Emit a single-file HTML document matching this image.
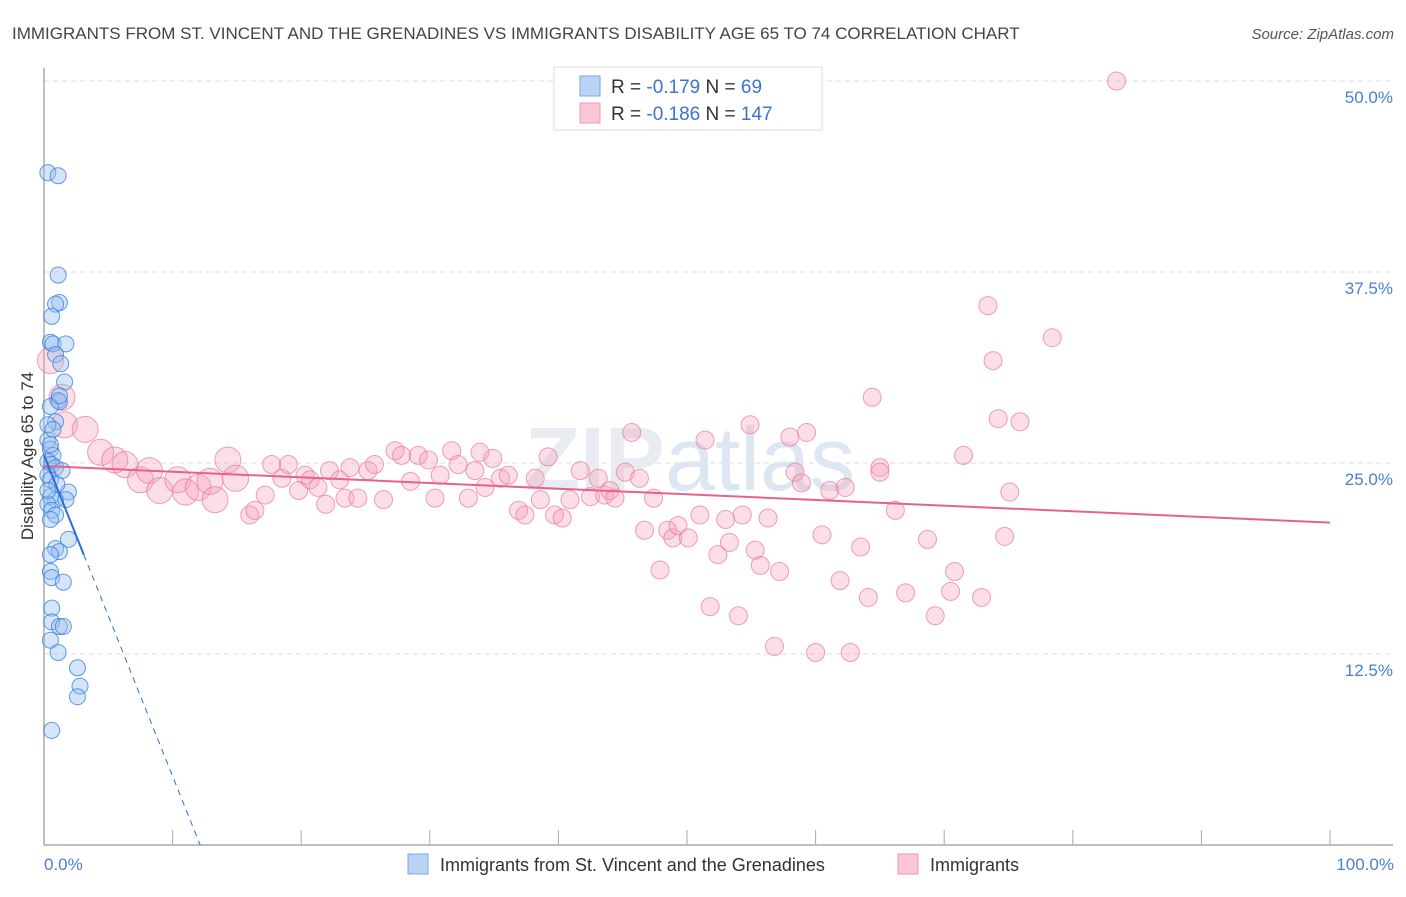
<!DOCTYPE html>
<html><head><meta charset="utf-8"><style>
body{margin:0;background:#fff;font-family:"Liberation Sans",sans-serif}
svg text{font-family:"Liberation Sans",sans-serif}
</style></head><body>
<svg width="1406" height="892" xmlns="http://www.w3.org/2000/svg">
<text x="12" y="39" font-size="17" fill="#444">IMMIGRANTS FROM ST. VINCENT AND THE GRENADINES VS IMMIGRANTS DISABILITY AGE 65 TO 74 CORRELATION CHART</text>
<text x="1394" y="39" font-size="15" fill="#555" text-anchor="end" font-style="italic">Source: ZipAtlas.com</text>
<g id="grid"></g>
<text x="690" y="490" font-size="90" fill="#e8ecf2" text-anchor="middle" font-weight="bold">ZIP<tspan fill="#dde6f3" font-weight="normal">atlas</tspan></text>
<line x1="44" y1="68" x2="44" y2="845" stroke="#aaa" stroke-width="1.5"/>
<line x1="44" y1="845" x2="1393" y2="845" stroke="#aaa" stroke-width="1.5"/>
<text transform="translate(33,456) rotate(-90)" font-size="17" fill="#333" text-anchor="middle">Disability Age 65 to 74</text>
<text x="44" y="870" font-size="17" fill="#4a7fd4">0.0%</text>
<text x="1394" y="870" font-size="17" fill="#4a7fd4" text-anchor="end">100.0%</text>
<g id="pink"></g><g id="blue"></g><g id="lines"></g>
<g>
<rect x="554" y="67" width="268" height="63" fill="#fff" stroke="#ddd"/>
<rect x="580" y="76" width="20" height="20" fill="#b9d3f5" stroke="#7aa6e6"/>
<rect x="580" y="103" width="20" height="20" fill="#fbc6d5" stroke="#ee98b2"/>
<text x="611" y="93" font-size="19" fill="#333">R = <tspan fill="#3d73cf">-0.179</tspan>   N = <tspan fill="#3d73cf">  69</tspan></text>
<text x="611" y="120" font-size="19" fill="#333">R = <tspan fill="#3d73cf">-0.186</tspan>   N = <tspan fill="#3d73cf">147</tspan></text>
</g>
<g>
<rect x="408" y="854" width="20" height="20" fill="#b9d3f5" stroke="#7aa6e6"/>
<text x="440" y="871" font-size="18" fill="#333">Immigrants from St. Vincent and the Grenadines</text>
<rect x="898" y="854" width="20" height="20" fill="#fbc6d5" stroke="#ee98b2"/>
<text x="930" y="871" font-size="18" fill="#333">Immigrants</text>
</g>
</svg>
<script>
const yTicks=[12.5,25,37.5,50];
const yTickLabels=["12.5%","25.0%","37.5%","50.0%"];
const xTicks=[10,20,30,40,50,60,70,80,90,100];
const blueX=[0.3,1.1,1.1,1.2,0.9,0.6,0.5,0.7,1.7,0.9,1.3,1.6,1.1,1.2,0.5,0.9,0.3,0.5,0.7,0.3,0.6,0.9,1.4,0.3,0.5,1.9,0.5,0.9,1.7,0.3,0.6,0.9,0.5,1.9,0.9,1.2,0.5,0.5,0.6,1.5,0.6,0.6,1.2,1.5,0.5,1.1,2.6,2.8,2.6,0.6,0.3,0.7,0.5,1.0,0.3,1.2];
const blueY=[44.0,43.8,37.3,35.5,35.4,34.6,32.9,32.8,32.8,32.1,31.5,30.3,29.1,29.0,28.7,27.7,26.5,25.9,25.5,25.1,24.9,24.7,24.5,24.2,23.9,23.1,22.8,22.6,22.6,22.3,21.9,21.6,21.3,20.0,19.4,19.2,19.0,17.9,17.5,17.2,15.5,14.6,14.3,14.3,13.4,12.6,11.6,10.4,9.7,7.5,27.5,27.2,26.2,23.6,23.2,29.4];
const pinkX=[0.5,1.4,1.6,3.2,4.4,5.5,6.3,7.5,8.2,9.0,10.4,11.0,12.0,12.9,13.3,14.3,14.9,16.0,16.4,17.2,17.7,18.5,19.0,19.8,20.3,20.7,21.3,21.9,22.2,23.0,23.4,23.8,24.4,25.2,25.7,26.4,27.3,27.8,28.5,29.1,29.9,30.4,30.8,31.7,32.2,33.0,33.5,33.9,34.3,34.9,35.5,36.1,36.9,37.4,38.2,38.6,39.2,39.7,40.3,40.9,41.7,42.5,43.1,43.6,44.0,44.4,45.2,45.7,46.3,46.7,47.4,47.9,48.5,48.9,49.3,50.1,51.0,51.4,51.8,52.4,53.0,53.3,54.0,54.3,54.9,55.3,55.7,56.3,56.8,57.2,58.0,58.4,58.9,59.3,60.0,60.5,61.1,61.9,62.3,62.7,63.5,64.1,64.4,65.0,65.0,66.2,67.0,68.7,69.3,70.5,70.8,71.5,72.9,73.4,73.8,74.2,74.7,75.1,75.9,78.4,83.4];
const pinkY=[31.7,29.3,27.5,27.2,25.7,25.2,24.9,23.9,24.5,23.2,23.9,23.1,23.4,23.8,22.6,25.2,24.0,21.6,21.9,22.9,24.9,24.0,24.9,23.2,24.2,23.9,23.4,22.3,24.5,23.9,22.7,24.7,22.7,24.5,24.9,22.6,25.8,25.5,23.8,25.5,25.2,22.7,24.2,25.8,24.9,22.7,24.5,25.7,23.4,25.3,24.0,24.2,21.9,21.6,24.0,22.6,25.4,21.6,21.4,22.6,24.5,22.8,24.0,22.9,23.2,22.7,24.4,27.0,24.0,20.6,22.7,18.0,20.6,20.1,20.9,20.1,21.6,26.5,15.6,19.0,21.3,19.8,15.0,21.6,27.5,19.3,18.3,21.4,13.0,17.9,26.7,24.4,23.7,27.0,12.6,20.3,23.2,17.3,23.4,12.6,19.5,16.2,29.3,24.7,24.4,21.9,16.5,20.0,15.0,16.6,17.9,25.5,16.2,35.3,31.7,27.9,20.2,23.1,27.7,33.2,50.0];
const pinkTrend=[24.8,21.1];
const blueTrendIntercept=25.5, blueTrendSlope=-2.1, blueSolidEnd=3.1;
const X=v=>44+v*12.86, Y=v=>81+(50-v)*15.28;
const NS="http://www.w3.org/2000/svg";
function mk(p,t,a){const e=document.createElementNS(NS,t);for(const k in a)e.setAttribute(k,a[k]);document.getElementById(p).appendChild(e);return e;}
yTicks.forEach((t,i)=>{
 const l=mk('grid','line',{x1:44,x2:1393,y1:Y(t),y2:Y(t),stroke:'#ddd','stroke-dasharray':'5,4'});
 
 
 const tx=mk('grid','text',{x:1393,y:Y(t)+22,'font-size':17,fill:'#4a7fd4','text-anchor':'end'});
 tx.textContent=yTickLabels[i];
 
 
});
xTicks.forEach(t=>{
 const l=mk('grid','line',{x1:X(t),x2:X(t),y1:830,y2:845,stroke:'#aaa'});
 
 
});
pinkX.forEach((x,i)=>{
 const c=mk('pink','circle',{cx:X(x),cy:Y(pinkY[i]),r:x<15?13:9,fill:'rgba(246,160,185,0.35)',stroke:'rgba(232,120,155,0.7)','stroke-width':1});
 
 
});
blueX.forEach((x,i)=>{
 const c=mk('blue','circle',{cx:X(x),cy:Y(blueY[i]),r:8,fill:'rgba(150,190,240,0.4)',stroke:'rgba(60,130,220,0.8)','stroke-width':1});
 
 
});
const pl=mk('lines','line',{x1:X(0),y1:Y(pinkTrend[0]),x2:X(100),y2:Y(pinkTrend[1]),stroke:'#e8608c','stroke-width':2});


const bEnd=blueSolidEnd, bZero=-blueTrendIntercept/blueTrendSlope;
const bl=mk('lines','line',{x1:X(0),y1:Y(blueTrendIntercept),x2:X(bEnd),y2:Y(blueTrendIntercept+blueTrendSlope*bEnd),stroke:'#2a6fd6','stroke-width':2});


const bd=mk('lines','line',{x1:X(bEnd),y1:Y(blueTrendIntercept+blueTrendSlope*bEnd),x2:X(bZero),y2:Y(0),stroke:'#2a6fd6','stroke-width':1,'stroke-dasharray':'6,5'});


</script>
</body></html>
